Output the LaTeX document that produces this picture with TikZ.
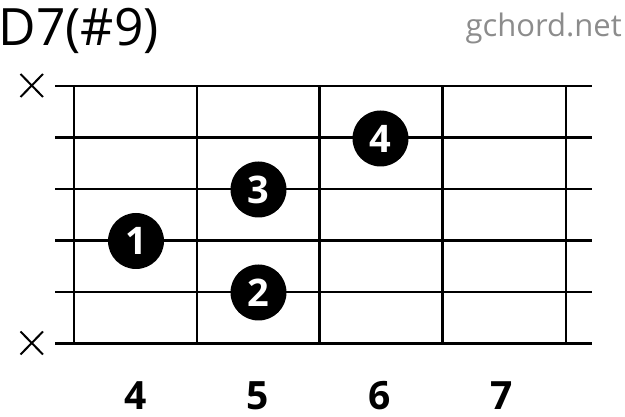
\documentclass[tikz,border=0pt]{standalone}
\usepackage{fontspec}
\setmainfont{Open Sans}
\begin{document}
\begin{tikzpicture}[x=1pt,y=-1pt,
  hline/.style={line width=2.7pt},
  vline/.style={line width=2.3pt},
  mute/.style={line width=2pt},
  finger/.style={circle,fill=black,minimum size=56pt,inner sep=0pt,text=white,font=\fontsize{38}{38}\selectfont\bfseries},
  fretnum/.style={anchor=base,inner sep=0pt,font=\fontsize{39}{39}\selectfont\bfseries}]
\useasboundingbox (0,0) rectangle (625,417);
% title and site name
\node[anchor=base west,inner sep=0pt,font=\fontsize{51.5}{51.5}\selectfont] (title) at (-1.5,45.5) {D7(\#9)};
\node[anchor=base east,inner sep=0pt,text={rgb,255:red,140;green,140;blue,140},font=\fontsize{31}{31}\selectfont] (site) at (622,37) {gchord.net};
% strings
\foreach \y in {86,137.5,189,240.5,292,343.5}
  \draw[hline] (55,\y) -- (592,\y);
% frets
\foreach \x in {74,197,319.5,442.5,566}
  \draw[vline] (\x,86) -- (\x,343.5);
% muted strings
\foreach \y in {85.5,343}
  \draw[mute] (20.5,\y-11.5) -- (43,\y+11.5) (20.5,\y+11.5) -- (43,\y-11.5);
% fingers
\node[finger] (f1) at (136,241) {1};
\node[finger] (f2) at (258.5,292.5) {2};
\node[finger] (f3) at (258.5,189.5) {3};
\node[finger] (f4) at (380.5,138.5) {4};
% fret numbers
\node[fretnum] (n4) at (136,409.5) {4};
\node[fretnum] (n5) at (258,409.5) {5};
\node[fretnum] (n6) at (380,409.5) {6};
\node[fretnum] (n7) at (502,409.5) {7};
\end{tikzpicture}
\end{document}
